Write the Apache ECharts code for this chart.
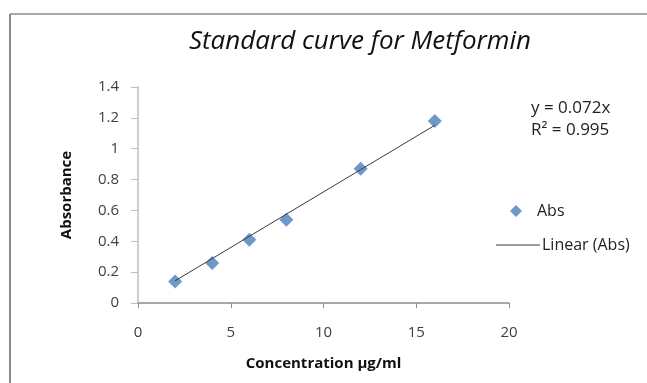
<!DOCTYPE html>
<html>
<head>
<meta charset="utf-8">
<script src="https://cdn.jsdelivr.net/npm/echarts@6/dist/echarts.min.js"></script>
<style>
  html, body { margin: 0; padding: 0; background: #fff; }
  #chart { width: 647px; height: 383px; }
</style>
</head>
<body>
<div id="chart"></div>
<script>
// readings
var concentration = [2, 4, 6, 8, 12, 16];
var absorbance = [0.14, 0.26, 0.41, 0.54, 0.87, 1.18];
// trend line y = 0.072x, drawn between first and last standard
var trendX = [2, 16];
var trendY = [0.144, 1.152];
var equationText = ['y = 0.072x', 'R\u00b2 = 0.995'];

var font = '"Open Sans", "Noto Sans", sans-serif';

var chart = echarts.init(document.getElementById('chart'));

var points = concentration.map(function (c, i) { return [c, absorbance[i]]; });
var trend = trendX.map(function (x, i) { return [x, trendY[i]]; });

var option = {
  backgroundColor: '#fff',
  animation: false,
  title: {
    text: 'Standard curve for Metformin',
    left: 355,
    top: 24,
    textAlign: 'center',
    textStyle: { fontFamily: font, fontStyle: 'italic', fontWeight: 'normal', fontSize: 26, color: '#111' }
  },
  grid: { left: 138, right: 138, top: 87, bottom: 80 },
  legend: [{
    data: ['Abs'],
    icon: 'diamond',
    itemWidth: 12,
    itemHeight: 12,
    itemGap: 6,
    left: 505,
    top: 198,
    textStyle: { fontFamily: font, fontSize: 16, color: '#222', padding: [0, 0, 0, 10] }
  }, {
    data: ['Linear (Abs)'],
    icon: 'rect',
    itemWidth: 44,
    itemHeight: 1,
    left: 491,
    top: 232,
    textStyle: { fontFamily: font, fontSize: 16, color: '#222', padding: [0, 0, 0, -3] }
  }],
  xAxis: {
    type: 'value',
    min: 0, max: 20, interval: 5,
    name: 'Concentration \u00b5g/ml',
    nameLocation: 'middle',
    nameGap: 53,
    nameTextStyle: { fontFamily: font, fontWeight: 'bold', fontSize: 15, color: '#111' },
    axisLine: { lineStyle: { color: '#8c8c8c', width: 1.5 } },
    axisTick: { show: true, length: 5, lineStyle: { color: '#8c8c8c' } },
    axisLabel: { fontFamily: font, fontSize: 15, color: '#404040', margin: 22 },
    splitLine: { show: false }
  },
  yAxis: {
    type: 'value',
    min: 0, max: 1.4, interval: 0.2,
    name: 'Absorbance',
    nameLocation: 'middle',
    nameGap: 64,
    nameTextStyle: { fontFamily: font, fontWeight: 'bold', fontSize: 15, color: '#111' },
    axisLine: { show: true, lineStyle: { color: '#cfcfcf', width: 2 } },
    axisTick: { show: true, length: 7, lineStyle: { color: '#bdbdbd' } },
    axisLabel: { fontFamily: font, fontSize: 15, color: '#404040', margin: 19 },
    splitLine: { show: false }
  },
  series: [{
    name: 'Abs',
    type: 'scatter',
    symbol: 'diamond',
    symbolSize: 14,
    itemStyle: { color: '#4a7ebb' },
    data: points,
    z: 3
  }, {
    name: 'Linear (Abs)',
    type: 'line',
    showSymbol: false,
    symbol: 'none',
    lineStyle: { color: '#3a3a3a', width: 1 },
    itemStyle: { color: '#3a3a3a' },
    data: trend,
    z: 4
  }],
  graphic: [{
    type: 'text',
    left: 531,
    top: 97,
    style: { text: equationText.join('\n'), fontFamily: font, fontSize: 17, lineHeight: 22, fill: '#222' }
  }, {
    type: 'line',
    shape: { x1: 10, y1: 14, x2: 647, y2: 14 },
    style: { stroke: '#8a8a8a', lineWidth: 1.5 }
  }, {
    type: 'line',
    shape: { x1: 10, y1: 14, x2: 10, y2: 383 },
    style: { stroke: '#8a8a8a', lineWidth: 2 }
  }]
};

chart.setOption(option);
</script>
</body>
</html>
